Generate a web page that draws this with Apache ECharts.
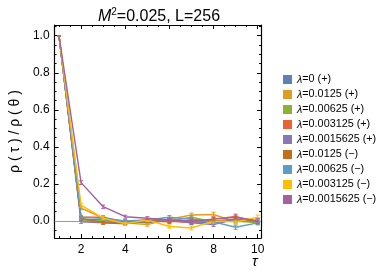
<!DOCTYPE html>
<html><head><meta charset="utf-8">
<script src="https://cdn.jsdelivr.net/npm/echarts@6/dist/echarts.min.js"></script>
<style>html,body{margin:0;padding:0;background:#fff}#c{width:383px;height:273px}</style>
</head><body><div id="c"></div>
<script>
const tau = [1,2,3,4,5,6,7,8,9,10];
const names = ['λ=0 (+)','λ=0.0125 (+)','λ=0.00625 (+)','λ=0.003125 (+)','λ=0.0015625 (+)','λ=0.0125 (−)','λ=0.00625 (−)','λ=0.003125 (−)','λ=0.0015625 (−)'];
const colors = ['#5E81B5','#E19C24','#8FB032','#EB6235','#8778B3','#C56E1A','#5D9EC7','#FFBF00','#A5609D'];
const s0 = [1, 0.010, 0.005, -0.005, -0.010, 0.005, -0.005, -0.010, 0.005, -0.005];
const s1 = [1, 0.070, 0.015, -0.010, -0.020, 0.010, 0.032, 0.035, -0.005, 0.005];
const s2 = [1, 0.005, 0.000, -0.005, 0.005, 0.000, 0.020, -0.005, 0.000, -0.010];
const s3 = [1, 0.020, 0.020, -0.005, 0.000, 0.000, -0.010, 0.010, 0.025, -0.005];
const s4 = [1, -0.005, -0.010, -0.010, 0.005, 0.005, -0.010, -0.020, 0.010, 0.000];
const s5 = [1, 0.015, -0.010, -0.015, 0.000, -0.005, 0.005, 0.000, 0.010, 0.000];
const s6 = [1, 0.020, 0.015, 0.000, 0.005, 0.020, 0.010, -0.005, -0.034, -0.010];
const s7 = [1, 0.085, 0.015, -0.015, 0.005, -0.030, -0.038, 0.000, -0.005, 0.020];
const s8 = [1, 0.207, 0.077, 0.023, 0.015, 0.005, 0.000, 0.010, 0.020, 0.000];
const e0 = [0, 0.008, 0.008, 0.007, 0.008, 0.008, 0.009, 0.010, 0.010, 0.010];
const e1 = [0, 0.010, 0.008, 0.008, 0.008, 0.009, 0.010, 0.012, 0.011, 0.012];
const e2 = [0, 0.008, 0.007, 0.007, 0.008, 0.008, 0.009, 0.010, 0.010, 0.010];
const e3 = [0, 0.009, 0.008, 0.008, 0.008, 0.009, 0.010, 0.010, 0.012, 0.011];
const e4 = [0, 0.008, 0.007, 0.007, 0.008, 0.008, 0.009, 0.010, 0.010, 0.010];
const e5 = [0, 0.009, 0.008, 0.008, 0.008, 0.009, 0.009, 0.010, 0.010, 0.011];
const e6 = [0, 0.009, 0.008, 0.008, 0.008, 0.009, 0.010, 0.010, 0.011, 0.011];
const e7 = [0, 0.010, 0.008, 0.008, 0.009, 0.009, 0.010, 0.011, 0.011, 0.012];
const e8 = [0, 0.010, 0.009, 0.008, 0.008, 0.009, 0.010, 0.010, 0.011, 0.011];
const xMajor = [2,4,6,8,10];
const xMinor = [1,1.5,2.5,3,3.5,4.5,5,5.5,6.5,7,7.5,8.5,9,9.5];
const yMajor = [0,0.2,0.4,0.6,0.8,1.0];
const yMinor = [-0.05,0.05,0.1,0.15,0.25,0.3,0.35,0.45,0.5,0.55,0.65,0.7,0.75,0.85,0.9,0.95,1.05];

const vals = [s0,s1,s2,s3,s4,s5,s6,s7,s8];
const errs = [e0,e1,e2,e3,e4,e5,e6,e7,e8];
const XMIN = 0.8, XMAX = 10.15, YMIN = -0.092, YMAX = 1.058;
const font = 'Liberation Sans, Arial, sans-serif';
const black = '#000';

function xAx(pos, ticks, len, showLine, labels){
  return {type:'value', position:pos, min:XMIN, max:XMAX,
    axisLine:{show:showLine, onZero:false, lineStyle:{color:black,width:1.2}},
    axisTick:{show:true, inside:true, length:len, customValues:ticks, lineStyle:{color:black,width:1}},
    axisLabel:{show:!!labels, customValues:labels||[], color:black, fontFamily:font, fontSize:12, margin:6},
    splitLine:{show:false}};
}
function yAx(pos, ticks, len, showLine, labels){
  return {type:'value', position:pos, min:YMIN, max:YMAX,
    axisLine:{show:showLine, onZero:false, lineStyle:{color:black,width:1.2}},
    axisTick:{show:true, inside:true, length:len, customValues:ticks, lineStyle:{color:black,width:1}},
    axisLabel:{show:!!labels, customValues:labels||[], color:black, fontFamily:font, fontSize:12, margin:5,
      formatter:v=>v.toFixed(1)},
    splitLine:{show:false}};
}

const series = [];
vals.forEach((v,i)=>{
  series.push({name:names[i], type:'line', xAxisIndex:0, yAxisIndex:0,
    data:tau.map((t,j)=>[t,v[j]]), showSymbol:false, symbol:'rect', z:2+i,
    color:colors[i], lineStyle:{width:1.4, color:colors[i]},
    markLine: i===0 ? {silent:true, symbol:'none', label:{show:false},
      lineStyle:{color:'#999', width:1, type:'solid'}, data:[{yAxis:0}], z:1} : undefined,
    animation:false});
});
vals.forEach((v,i)=>{
  series.push({type:'custom', xAxisIndex:0, yAxisIndex:0, z:2+i,
    data:tau.map((t,j)=>[t,v[j],errs[i][j]]),
    renderItem:(params,api)=>{
      const x=api.value(0), y=api.value(1), e=api.value(2);
      const p1=api.coord([x,y-e]), p2=api.coord([x,y+e]);
      const w=2;
      const st={stroke:colors[i], lineWidth:1};
      return {type:'group', children:[
        {type:'line', shape:{x1:p1[0],y1:p1[1],x2:p2[0],y2:p2[1]}, style:st},
        {type:'line', shape:{x1:p1[0]-w,y1:p1[1],x2:p1[0]+w,y2:p1[1]}, style:st},
        {type:'line', shape:{x1:p2[0]-w,y1:p2[1],x2:p2[0]+w,y2:p2[1]}, style:st}
      ]};
    }, animation:false, silent:true});
});

const chart = echarts.init(document.getElementById('c'));
chart.setOption({
  animation:false,
  backgroundColor:'#fff',
  title:{text:'{i|M}{s|2}{n|=0.025, L=256}', left:154, textAlign:'center', top:2,
    textStyle:{fontWeight:'normal', rich:{
      i:{fontStyle:'italic', fontWeight:'normal', fontSize:16, fontFamily:font, color:black},
      s:{fontSize:10, fontWeight:'normal', fontFamily:font, color:black, padding:[0,0,9,0]},
      n:{fontSize:16, fontWeight:'normal', fontFamily:font, color:black}}}},
  grid:{left:47, right:122, top:25, bottom:35, containLabel:false},
  legend:{orient:'vertical', left:278, top:69, itemWidth:9, itemHeight:9, itemGap:4,
    icon:'rect', data:names,
    formatter:n=>'{i|λ}'+n.slice(1),
    textStyle:{fontFamily:font, fontSize:10.8, color:black,
      rich:{i:{fontStyle:'italic', fontSize:10.8, fontFamily:font, color:black}}}},
  xAxis:[xAx('bottom', xMajor, 4, true, xMajor), xAx('bottom', xMinor, 2, false),
         xAx('top', xMajor, 4, true), xAx('top', xMinor, 2, false)],
  yAxis:[{...yAx('left', yMajor, 4, true, yMajor), name:'ρ ( τ ) / ρ ( θ )', nameLocation:'middle',
           nameGap:27, nameRotate:90, nameTextStyle:{fontFamily:font, fontSize:14, color:black}},
         yAx('left', yMinor, 2, false),
         yAx('right', yMajor, 4, true), yAx('right', yMinor, 2, false)],
  graphic:[{type:'text', left:252, top:254, style:{text:'τ', font:'italic 15px Liberation Sans, Arial', fill:black}}],
  series:series
});
</script></body></html>
